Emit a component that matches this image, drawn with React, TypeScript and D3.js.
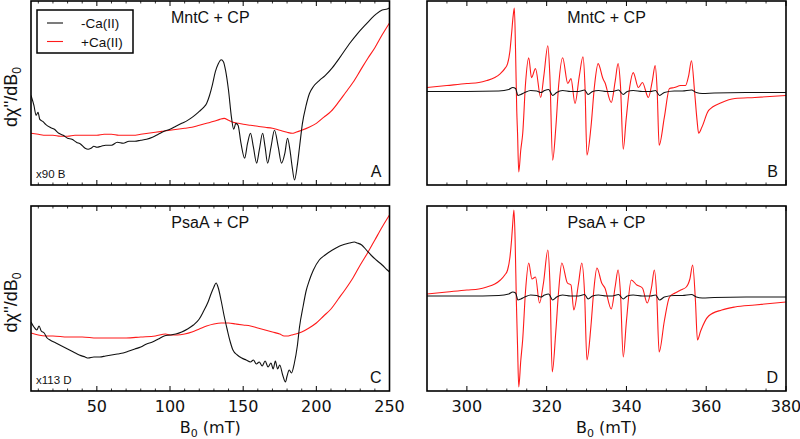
import React from "react";
import * as d3 from "d3";

// ---------- Data (field in mT, intensity in arbitrary units) ----------
// Panel A  (MntC + CP, low field, x90)
const fieldA_minus = [5, 7, 8.5, 9.8, 11, 13, 15, 18, 21, 24, 27, 30, 33, 36, 39, 42, 44, 46, 48, 50, 53, 56, 60, 64, 68, 72, 76, 80, 84, 88, 92, 96, 100, 104, 108, 112, 116, 120, 123, 125, 127, 129, 131, 133, 135, 136.5, 138, 140, 142, 143.5, 145, 146.5, 148.5, 151, 153, 155, 157, 159.2, 161, 163.3, 165, 166.7, 169, 171.4, 174, 176.2, 178.5, 180.3, 182, 183.5, 185.1, 187, 188.5, 190.5, 193, 195.3, 198, 202, 206, 211, 216, 222.6, 228, 234.2, 238, 241, 245, 248.5, 250];
const intA_minus = [90, 80, 70, 73, 66, 64, 61, 58, 56, 52, 50, 47, 46, 43, 41, 37, 36, 37, 39, 38, 39, 40, 40, 43, 42, 44, 44, 45, 46, 48, 51, 54, 56, 59, 62, 65, 69, 74, 78, 82, 90, 101, 114, 122, 126, 124, 115, 95, 68, 56, 62, 60, 42, 27, 42, 52, 38, 22, 35, 52, 38, 22, 38, 55, 38, 22, 32, 47, 35, 18, 5, 20, 38, 62, 80, 92, 99, 105, 110, 118, 128, 142, 152, 162, 168, 172, 176, 177, 178];
const fieldA_plus = [5, 10, 15, 20, 25, 30, 35, 40, 45, 50, 55, 60, 65, 70, 75, 80, 85, 90, 95, 100, 105, 110, 115, 120, 125, 130, 134, 137, 140, 143, 147, 150, 155, 160, 165, 170, 175, 180, 183.5, 186, 190, 195, 200, 205, 210, 215, 220, 225, 230, 235, 240, 245, 250];
const intA_plus = [52, 51, 50, 50, 49, 49, 50, 50, 50, 50, 51, 51, 50, 50, 50, 51, 52, 53, 54, 55, 56, 57, 58, 60, 62, 64, 66, 67, 65, 63, 62, 61, 60, 59, 58, 57, 55, 53, 52, 53, 55, 58, 62, 68, 74, 83, 93, 103, 115, 127, 138, 151, 163];

// Panel C  (PsaA + CP, low field, x113)
const fieldC_minus = [5, 7, 9, 10.5, 12, 14, 16, 18, 22, 26, 30, 34, 38, 42, 44, 48, 52, 56, 60, 64, 68, 72, 76, 80, 84, 88, 92, 96, 100, 104, 108, 112, 116, 120, 123, 126, 128, 130, 131.5, 133, 135, 137, 139, 141, 143, 146, 149, 152, 155, 157, 159, 161, 163, 165, 167, 169, 170.5, 172, 173.5, 175, 177, 178.9, 180, 181.5, 183, 185, 187, 188.5, 191, 193, 195.3, 198, 202, 206, 211, 216, 222.6, 226, 228, 231, 234.2, 238, 241, 245, 248.5, 250];
const intC_minus = [69, 64, 61, 65, 60, 58, 53, 51, 48, 45, 42, 39, 36, 34, 33, 34, 34, 35, 36, 37, 38, 40, 42, 44, 47, 49, 52, 55, 56, 57, 59, 62, 66, 72, 80, 89, 97, 104, 108, 103, 90, 75, 62, 50, 41, 36, 33, 31, 29, 31, 27, 29, 25, 30, 24, 28, 22, 30, 22, 26, 16, 9, 15, 21, 18, 28, 45, 64, 85, 100, 111, 121, 131, 136, 141, 145, 148, 149, 148, 146, 141, 135, 131, 126, 121, 119];
const fieldC_plus = [5, 10, 15, 20, 30, 40, 50, 60, 70, 80, 90, 97, 100, 105, 110, 115, 120, 125, 130, 135, 140, 145, 150, 155, 160, 165, 170, 175, 178, 180, 183, 186, 190, 195, 200, 205, 210, 215, 220, 225, 230, 235, 240, 245, 250];
const intC_plus = [58, 56, 55, 55, 54, 54, 53, 53, 53, 54, 55, 57, 56, 56, 57, 59, 62, 65, 67, 68, 68, 67, 66, 65, 63, 61, 59, 57, 55, 55, 56, 57, 59, 63, 68, 75, 82, 92, 102, 113, 126, 138, 151, 164, 176];

// Panel B  (MntC + CP, g = 2 region)
const fieldB_plus = [290, 295, 300, 303, 305, 307, 308.4, 309.5, 310.2, 310.8, 311.2, 311.6, 311.9, 312.2, 312.5, 312.7, 313.0, 313.5, 314.0, 314.7, 315.5, 316.2, 317.2, 318.5, 319.3, 320.3, 320.8, 321.5, 322.3, 323, 324.0, 325.3, 326.1, 327.1, 328.2, 329.1, 329.6, 330.1, 331.1, 332.0, 332.9, 334.1, 334.6, 336.2, 337.2, 337.9, 338.5, 339.2, 339.9, 340.8, 341.7, 343.0, 344.0, 345.5, 346.5, 347.2, 347.7, 348.2, 349.5, 350.8, 352.0, 353.6, 354.8, 355.6, 356.3, 357.1, 357.7, 358.1, 358.9, 360.6, 363.9, 367.2, 372.2, 380];
const intB_plus = [98, 100, 102, 103, 105, 108, 112, 117, 122, 135, 152, 170, 178, 135, 75, 52, 13, 35, 52, 102, 128, 108, 117, 88, 110, 140, 110, 25, 58, 100, 128, 102, 107, 82, 110, 129, 100, 30, 58, 100, 122, 107, 103, 83, 105, 122, 100, 36, 65, 98, 113, 98, 103, 88, 105, 120, 95, 40, 68, 97, 98, 100, 100, 110, 125, 93, 65, 52, 58, 75, 83, 87, 88, 90];
const fieldB_minus = [290, 300, 308, 310.5, 311.5, 312.2, 312.8, 313.5, 314.5, 316, 317.5, 318.5, 319.5, 320.5, 321.5, 322.5, 324, 326, 328, 329.5, 330.4, 331.5, 333, 335, 336.5, 338, 339.2, 340.2, 341.7, 344, 346, 347.3, 348.3, 349.5, 352, 354, 356.3, 357.5, 359, 362, 370, 380];
const intB_minus = [94, 94, 94.5, 96, 98, 97, 90, 91, 93, 95, 94.5, 93, 95, 96, 90, 93, 95, 94, 94, 95.5, 91, 94, 95, 94, 94, 95.5, 91, 94, 95, 94, 94, 95, 90, 93, 94.5, 94.5, 95.5, 93, 92, 92.5, 93, 93];

// Panel D  (PsaA + CP, g = 2 region)
const fieldD_plus = [290, 295, 300, 303, 305, 307, 308.4, 309.5, 310.2, 310.8, 311.2, 311.5, 311.8, 312.1, 312.4, 312.7, 313.0, 313.5, 314.0, 314.7, 315.5, 316.3, 317.2, 318.2, 319.2, 320.3, 320.8, 321.4, 322.3, 323, 323.8, 325.2, 326.1, 326.8, 328.0, 328.8, 329.5, 330.1, 331.1, 331.8, 332.6, 333.8, 334.6, 336.2, 337.2, 337.9, 338.5, 339.2, 340.0, 341.2, 342.6, 344.0, 345.2, 346.3, 347.0, 347.6, 348.2, 349.5, 350.8, 352.2, 353.6, 355.0, 355.9, 356.6, 357.3, 357.8, 358.6, 360.6, 363.9, 367.2, 372.2, 380];
const intD_plus = [97, 99, 101, 102, 104, 107, 111, 116, 121, 134, 151, 168, 181, 150, 90, 45, 4, 30, 52, 100, 128, 112, 114, 88, 108, 141, 110, 19, 60, 100, 128, 108, 106, 81, 108, 128, 98, 31, 65, 100, 123, 108, 103, 82, 105, 121, 98, 34, 70, 111, 106, 103, 88, 104, 121, 95, 39, 70, 94, 98, 101, 104, 112, 126, 90, 51, 60, 75, 81, 84, 86, 89];
const fieldD_minus = [290, 300, 308, 310.5, 311.5, 312.2, 312.8, 313.5, 314.5, 316, 317.5, 318.5, 319.5, 320.5, 321.5, 322.5, 324, 326, 328, 329.5, 330.4, 331.5, 333, 335, 336.5, 338, 339.2, 340.2, 341.7, 344, 346, 347.3, 348.3, 349.5, 352, 354, 356.3, 357.5, 359, 362, 370, 380];
const intD_minus = [95, 95, 95.5, 97, 99, 98, 91, 92, 94, 96, 95.5, 94, 96, 97, 91, 94, 96, 95, 95, 96.5, 92, 95, 96, 95, 95, 96.5, 92, 95, 96, 95, 95, 96, 91, 94, 95.5, 95.5, 96.5, 94, 93, 93.5, 94, 94];

const ticksLow = [50, 100, 150, 200, 250];
const ticksHigh = [300, 320, 340, 360, 380];
const titles = ["MntC + CP", "MntC + CP", "PsaA + CP", "PsaA + CP"];
const letters = ["A", "B", "C", "D"];
const scaleNotes = ["x90 B", "", "x113 D", ""];
const legendLabels = ["-Ca(II)", "+Ca(II)"];

// ---------- Layout ----------
const W = 800;
const H = 439;
const cols = [
  { x0: 31, x1: 389.5, domain: [5, 250], major: ticksLow, minorStep: 10 },
  { x0: 427, x1: 786, domain: [290, 380], major: ticksHigh, minorStep: 5 },
];
const rows = [
  { y0: 1, y1: 185 },
  { y0: 206, y1: 391 },
];
const BLACK = "#111";
const RED = "#ff1a1a";

type Series = { field: number[]; inten: number[]; color: string };

const panelSeries: Series[][] = [
  [
    { field: fieldA_plus, inten: intA_plus, color: RED },
    { field: fieldA_minus, inten: intA_minus, color: BLACK },
  ],
  [
    { field: fieldB_plus, inten: intB_plus, color: RED },
    { field: fieldB_minus, inten: intB_minus, color: BLACK },
  ],
  [
    { field: fieldC_plus, inten: intC_plus, color: RED },
    { field: fieldC_minus, inten: intC_minus, color: BLACK },
  ],
  [
    { field: fieldD_plus, inten: intD_plus, color: RED },
    { field: fieldD_minus, inten: intD_minus, color: BLACK },
  ],
];

function Panel({ idx }: { idx: number }) {
  const col = cols[idx % 2];
  const row = rows[Math.floor(idx / 2)];
  const x = d3.scaleLinear().domain(col.domain).range([col.x0, col.x1]);
  const y = d3.scaleLinear().domain([0, 185]).range([row.y1, row.y0]);
  const curve = d3.curveMonotoneX;
  const minors = d3
    .range(Math.ceil(col.domain[0] / col.minorStep) * col.minorStep, col.domain[1] + 0.001, col.minorStep)
    .filter((v) => !col.major.includes(v) && v > col.domain[0] && v < col.domain[1]);
  const clipId = `clip${idx}`;
  const cx = (col.x0 + col.x1) / 2;
  return (
    <g>
      <defs>
        <clipPath id={clipId}>
          <rect x={col.x0} y={row.y0} width={col.x1 - col.x0} height={row.y1 - row.y0} />
        </clipPath>
      </defs>
      <g clipPath={`url(#${clipId})`}>
        {panelSeries[idx].map((s, i) => {
          const pts = s.field.map((f, k) => [f, s.inten[k]] as [number, number]);
          const line = d3
            .line<[number, number]>()
            .x((d) => x(d[0]))
            .y((d) => y(d[1]))
            .curve(curve);
          return <path key={i} d={line(pts) || ""} fill="none" stroke={s.color} strokeWidth={1.1} />;
        })}
      </g>
      {col.major.map((t) => (
        <g key={"M" + t}>
          <line x1={x(t)} x2={x(t)} y1={row.y1} y2={row.y1 - 5} stroke="#000" strokeWidth={1} />
          <line x1={x(t)} x2={x(t)} y1={row.y0} y2={row.y0 + 5} stroke="#000" strokeWidth={1} />
        </g>
      ))}
      {minors.map((t) => (
        <g key={"m" + t}>
          <line x1={x(t)} x2={x(t)} y1={row.y1} y2={row.y1 - 2.5} stroke="#000" strokeWidth={0.8} />
          <line x1={x(t)} x2={x(t)} y1={row.y0} y2={row.y0 + 2.5} stroke="#000" strokeWidth={0.8} />
        </g>
      ))}
      <rect
        x={col.x0}
        y={row.y0}
        width={col.x1 - col.x0}
        height={row.y1 - row.y0}
        fill="none"
        stroke="#000"
        strokeWidth={1.6}
      />
      <text
        x={cx}
        y={row.y0 + 22}
        textAnchor="middle"
        fontFamily="Liberation Sans, Arial, sans-serif"
        fontSize={16}
        fill="#111"
      >
        {titles[idx]}
      </text>
      <text
        x={col.x1 - 8}
        y={row.y1 - 8}
        textAnchor="end"
        fontFamily="Liberation Sans, Arial, sans-serif"
        fontSize={16}
        fill="#111"
      >
        {letters[idx]}
      </text>
      {scaleNotes[idx] && (
        <text
          x={col.x0 + 5}
          y={row.y1 - 7}
          fontFamily="Liberation Sans, Arial, sans-serif"
          fontSize={11.5}
          fill="#111"
        >
          {scaleNotes[idx]}
        </text>
      )}
      {idx >= 2 &&
        col.major.map((t) => (
          <text
            key={"l" + t}
            x={x(t)}
            y={row.y1 + 21}
            textAnchor="middle"
            fontFamily="DejaVu Sans, sans-serif"
            fontSize={16}
            fill="#111"
          >
            {t}
          </text>
        ))}
      {idx >= 2 && (
        <text
          x={cx}
          y={row.y1 + 42}
          textAnchor="middle"
          fontFamily="DejaVu Sans, sans-serif"
          fontSize={16}
          fill="#111"
        >
          B<tspan fontSize={11} dy={4}>0</tspan>
          <tspan dy={-4}> (mT)</tspan>
        </text>
      )}
      {idx % 2 === 0 && (
        <text
          transform={`translate(${col.x0 - 14},${(row.y0 + row.y1) / 2 + 4}) rotate(-90)`}
          textAnchor="middle"
          fontFamily="Liberation Sans, Arial, sans-serif"
          fontSize={18}
          fill="#111"
        >
          dχ''/dB<tspan fontSize={12} dy={4}>0</tspan>
        </text>
      )}
    </g>
  );
}

function Legend() {
  const bx = 37;
  const by = 10;
  const colors = [BLACK, RED];
  return (
    <g>
      <rect x={bx} y={by} width={96} height={43} fill="#fff" stroke="#000" strokeWidth={1.5} />
      {legendLabels.map((lab, i) => (
        <g key={lab}>
          <line x1={bx + 10} x2={bx + 26} y1={by + 13 + i * 18.5} y2={by + 13 + i * 18.5} stroke={colors[i]} strokeWidth={1.1} />
          <text
            x={bx + 44}
            y={by + 18 + i * 18.5}
            fontFamily="Liberation Sans, Arial, sans-serif"
            fontSize={13.5}
            fill="#111"
          >
            {lab}
          </text>
        </g>
      ))}
    </g>
  );
}

export default function App() {
  return (
    <svg
      width={W}
      height={H}
      viewBox={`0 0 ${W} ${H}`}
      style={{ position: "absolute", left: 0, top: 0, background: "#fff" }}
    >
      <rect x={0} y={0} width={W} height={H} fill="#fff" />
      {[0, 1, 2, 3].map((i) => (
        <Panel key={i} idx={i} />
      ))}
      <Legend />
    </svg>
  );
}
